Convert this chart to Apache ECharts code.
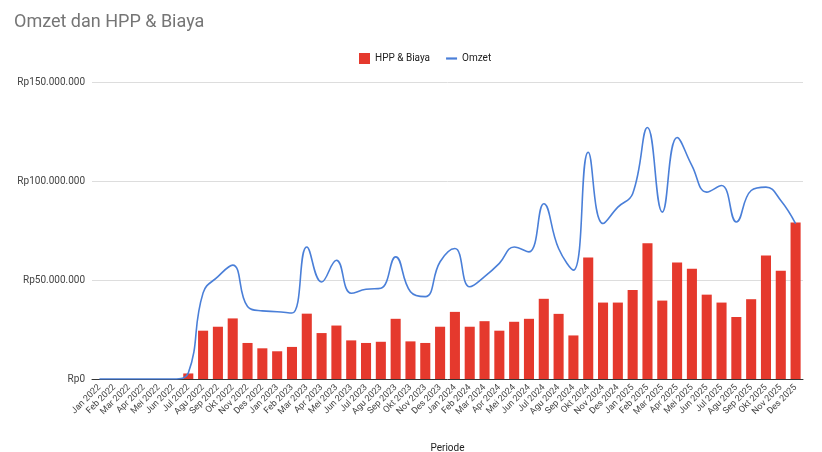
<!DOCTYPE html>
<html>
<head>
<meta charset="utf-8">
<script src="https://cdn.jsdelivr.net/npm/echarts@6/dist/echarts.min.js"></script>
<style>
    html, body { margin: 0; padding: 0; background: #fff; }
    #main { width: 822px; height: 452px; }
</style>
</head>
<body>
<div id="main"></div>
<script>
// bulan (Jan 2022 - Des 2025)
var bulan = ['Jan', 'Feb', 'Mar', 'Apr', 'Mei', 'Jun', 'Jul', 'Agu', 'Sep', 'Okt', 'Nov', 'Des'];
var tahun = [2022, 2023, 2024, 2025];
var periode = [];
tahun.forEach(function (t) {
    bulan.forEach(function (b) { periode.push(b + ' ' + t); });
});

// HPP & Biaya (juta rupiah)
var hppBiaya = [0, 0, 0, 0, 0, 0, 2.8, 24.4, 26.4, 30.6, 18.2, 15.5,
    14, 16.2, 33, 23.2, 27, 19.5, 18.2, 18.8, 30.4, 19, 18.2, 26.4,
    33.9, 26.4, 29.2, 24.4, 28.9, 30.4, 40.5, 32.9, 22, 61.4, 38.6, 38.6,
    45, 68.6, 39.6, 58.9, 55.7, 42.6, 38.6, 31.3, 40.3, 62.4, 54.7, 79.1];

// Omzet (juta rupiah)
var omzet = [0, 0, 0, 0, 0, 0, 3, 43.5, 51.7, 57.5, 36.6, 34.4,
    34, 33.3, 66.7, 49, 60, 43.3, 45.3, 45.8, 61.7, 44.1, 41.6, 59.2,
    65.9, 46.6, 51.7, 58.4, 66.7, 64.2, 88.5, 65.9, 55, 114.5, 78.5, 86.8,
    93.6, 127, 84.3, 122, 107.8, 94.4, 97.7, 79.3, 95.2, 96.9, 90.2, 78.5];

var yTicks = [0, 50, 100, 150];

function rupiah(v) {
    var n = Math.round(v * 1000000);
    return 'Rp' + n.toString().replace(/\B(?=(\d{3})+(?!\d))/g, '.');
}

var myChart = echarts.init(document.getElementById('main'));
var option = {
    animation: false,
    title: {
        text: 'Omzet dan HPP & Biaya',
        left: 9,
        top: 8,
        textStyle: { fontFamily: 'Roboto', fontSize: 18, fontWeight: 'normal', color: '#757575' }
    },
    legend: {
        top: 48,
        left: 354,
        itemGap: 16,
        itemWidth: 11,
        itemHeight: 11,
        textStyle: { fontFamily: 'Roboto', fontSize: 10, color: '#222' },
        data: [
            { name: 'HPP & Biaya', icon: 'rect' },
            { name: 'Omzet', icon: 'path://M0,5 L10,5 L10,7 L0,7 Z' }
        ]
    },
    grid: { left: 92, right: 19, top: 82, bottom: 73, outerBoundsMode: 'none' },
    xAxis: {
        type: 'category',
        data: periode,
        name: 'Periode',
        nameLocation: 'middle',
        nameGap: 64,
        nameTextStyle: { fontFamily: 'Roboto', fontSize: 10, color: '#222' },
        axisLine: { lineStyle: { color: '#333', width: 1 } },
        axisTick: { show: false },
        axisLabel: {
            interval: 0,
            rotate: 45,
            fontFamily: 'Roboto',
            fontSize: 9,
            color: '#444',
            margin: 7
        }
    },
    yAxis: {
        type: 'value',
        min: 0,
        max: 150,
        interval: 50,
        axisLine: { show: false },
        axisTick: { show: false },
        splitLine: { lineStyle: { color: '#ddd' } },
        axisLabel: {
            fontFamily: 'Roboto',
            fontSize: 10,
            color: '#444',
            margin: 7,
            formatter: function (v) { return yTicks.indexOf(v) >= 0 ? rupiah(v) : ''; }
        }
    },
    series: [
        {
            name: 'HPP & Biaya',
            type: 'bar',
            data: hppBiaya,
            barCategoryGap: '32%',
            itemStyle: { color: '#e5392d' }
        },
        {
            name: 'Omzet',
            type: 'line',
            data: omzet,
            smooth: 0.45,
            showSymbol: false,
            symbol: 'none',
            itemStyle: { color: '#4a7fd8' },
            lineStyle: { color: '#4a7fd8', width: 1.6 }
        }
    ]
};
myChart.setOption(option);
</script>
</body>
</html>
